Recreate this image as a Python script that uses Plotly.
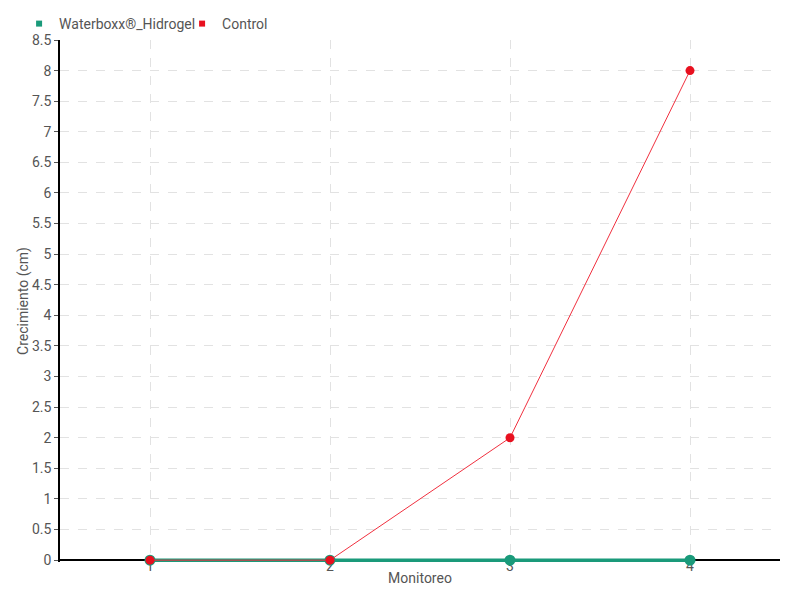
import plotly.graph_objects as go

monitoreo = [1, 2, 3, 4]
waterboxx_hidrogel = [0, 0, 0, 0]
control = [0, 0, 2, 8]

FONT = "Roboto, DejaVu Sans Condensed, sans-serif"
GREEN = "#1a9a7a"
RED = "#e8101f"

fig = go.Figure()
fig.add_trace(go.Scatter(
    x=monitoreo, y=waterboxx_hidrogel, mode="lines+markers",
    name="Waterboxx®_Hidrogel", showlegend=False, cliponaxis=False,
    line=dict(color=GREEN, width=3.5),
    marker=dict(color=GREEN, size=11, symbol="circle"),
))
fig.add_trace(go.Scatter(
    x=monitoreo, y=control, mode="lines+markers",
    name="Control", showlegend=False, cliponaxis=False,
    line=dict(color="#f0303f", width=1),
    marker=dict(color=RED, size=9, symbol="circle"),
))
# legend entries shown as small squares
for name, color in [("Waterboxx®_Hidrogel", GREEN), ("Control", RED)]:
    fig.add_trace(go.Scatter(
        x=[None], y=[None], mode="markers", name=name,
        marker=dict(color=color, size=6, symbol="square"),
    ))

# page body adds an 8px offset, so the figure is 792x592
# y range goes a hair below 0 so the thick line at 0 isn't clipped
fig.update_layout(
    width=792, height=592,
    paper_bgcolor="white", plot_bgcolor="white",
    margin=dict(l=52, r=20, t=32, b=38),
    font=dict(family=FONT, size=14, color="#555555"),
    showlegend=True,
    legend=dict(orientation="h", xref="container", x=0.014, xanchor="left",
                yref="container", y=1.0, yanchor="top",
                entrywidth=118, entrywidthmode="pixels",
                font=dict(size=14, color="#555555"), itemwidth=30,
                tracegroupgap=0, bgcolor="rgba(0,0,0,0)"),
    xaxis=dict(
        title=dict(text="Monitoreo", standoff=0, font=dict(size=14, color="#555555")),
        range=[0.5, 4.5], tickvals=monitoreo, ticktext=[str(v) for v in monitoreo],
        showgrid=True, gridcolor="#e2e2e2", griddash="dash", gridwidth=1,
        showline=False, layer="below traces",
        zeroline=False, ticks="", automargin=False, ticklabelstandoff=-6,
    ),
    yaxis=dict(
        title=dict(text="Crecimiento (cm)", standoff=0, font=dict(size=14, color="#555555")),
        range=[-0.03, 8.5], dtick=0.5, tick0=0, tickformat="~g",
        showgrid=True, gridcolor="#e2e2e2", griddash="dash", gridwidth=1,
        showline=True, linecolor="black", linewidth=1.5, layer="below traces",
        zeroline=True, zerolinecolor="black", zerolinewidth=1.5,
        ticks="outside", ticklen=4, tickcolor="#555555",
        automargin=False,
    ),
)

fig.write_html("out.html")
